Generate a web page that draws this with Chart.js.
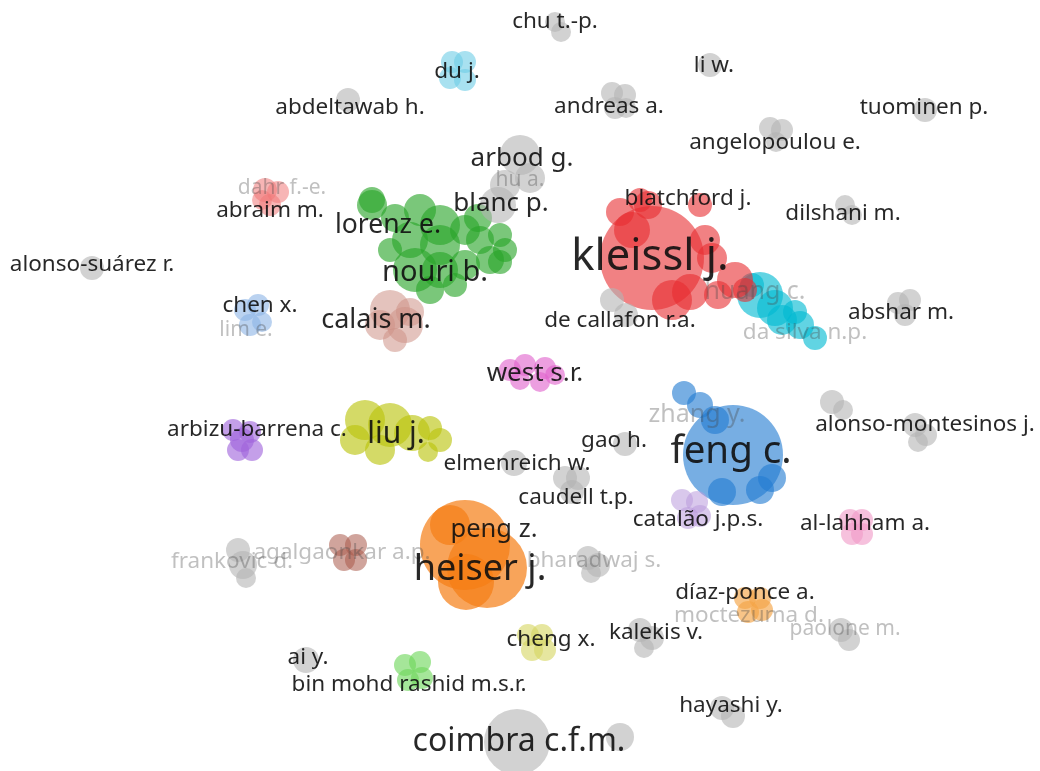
<!DOCTYPE html>
<html>
<head>
<meta charset="utf-8">
<script src="https://cdn.jsdelivr.net/npm/chart.js@4/dist/chart.umd.min.js"></script>
<style>
  html, body { margin: 0; padding: 0; background: #ffffff; }
  #wrap { width: 1040px; height: 771px; }
</style>
</head>
<body>
<div id="wrap"><canvas id="map"></canvas></div>
<script>
// Co-authorship map: clusters of authors laid out on a 2-D map.
// Map coordinates run 0..1040 (x) and 0..771 (y, downwards).

const clusterNames = [
  'other', 'kleissl', 'abraim', 'huang', 'du', 'lorenz', 'rashid', 'calais',
  'agalgaonkar', 'chen', 'west', 'liu', 'cheng', 'arbizu', 'catalao',
  'feng', 'heiser', 'diaz', 'lahham'
];

// Nodes (one per author); cluster index into clusterNames, map position and node weight.
const nodeCluster = [
  0,0,0,0,0,0,0,0,0,0,0,0,0,0,0,0,0,0,0,0,0,0,0,0,0,0,0,0,0,0,0,0,0,0,0,0,0,0,0,0,0,0,0,0,0,0,0,0,0,0,
  1,1,1,1,1,1,1,1,1,1,1,1,1,
  2,2,2,2,
  3,3,3,3,3,3,3,
  4,4,4,4,
  5,5,5,5,5,5,5,5,5,5,5,5,5,5,5,5,5,5,5,5,
  6,6,6,6,
  7,7,7,7,7,
  8,8,8,8,
  9,9,9,9,
  10,10,10,10,10,10,
  11,11,11,11,11,11,11,11,
  12,12,12,12,
  13,13,13,13,13,
  14,14,14,14,
  15,15,15,15,15,15,15,
  16,16,16,16,
  17,17,17,17,
  18,18,18,18
];
const nodeX = [
  // other (grey) nodes
  555,561, 710, 348, 612,625,615,626, 925, 770,782,776, 520,530,505,498, 845,852, 92,
  612,626, 898,910,905, 832,843, 915,926,918, 625, 514, 565,578,572, 588,598,591,
  238,243,246, 640,652,644, 841,849, 306, 722,733, 517, 620,
  // kleissl
  652,620,648,700,705,712,735,718,690,640,632,672,745,
  // abraim
  265,278,270,262,
  // huang
  760,782,800,815,752,795,775,
  // du
  452,465,450,465,
  // lorenz / nouri
  372,395,410,440,465,480,500,505,415,440,465,490,390,440,455,372,430,420,478,500,
  // bin mohd rashid
  405,420,408,422,
  // calais
  390,405,380,395,410,
  // agalgaonkar
  340,356,344,356,
  // chen / lim
  245,258,250,262,
  // west
  510,525,545,555,520,540,
  // liu
  365,390,412,355,380,430,440,428,
  // cheng
  528,542,532,545,
  // arbizu-barrena
  233,250,238,252,242,
  // catalao
  682,697,688,700,
  // feng
  733,684,700,715,772,722,760,
  // heiser / peng
  465,487,466,450,
  // diaz-ponce
  745,760,748,762,
  // al-lahham
  850,862,852,862
];
const nodeY = [
  22,32, 65, 100, 93,95,108,108, 110, 128,130,142, 155,178,185,205, 205,215, 268,
  300,315, 303,300,315, 402,410, 425,435,442, 444, 463, 478,478,492, 558,565,573,
  550,565,578, 630,638,648, 630,640, 660, 708,716, 742, 737,
  258,212,205,205,240,258,280,295,292,200,230,300,290,
  190,192,205,200,
  295,320,325,338,285,312,308,
  62,62,78,80,
  205,218,240,225,230,240,235,250,270,270,265,260,250,245,285,200,290,210,218,262,
  665,662,680,678,
  310,325,325,340,312,
  545,545,560,560,
  310,305,325,322,
  370,365,368,375,380,382,
  420,425,433,440,450,428,440,452,
  635,635,650,650,
  430,432,450,450,440,
  500,502,518,516,
  455,393,405,420,478,492,490,
  545,568,582,525,
  598,598,612,610,
  520,520,534,534
];
const nodeWeight = [
  10,10, 12, 12, 11,11,11,10, 12, 11,11,10, 20,15,15,18, 10,10, 12,
  12,12, 11,11,11, 12,10, 12,11,10, 12, 13, 12,12,12, 12,12,10,
  12,14,10, 12,12,10, 12,11, 13, 12,12, 33, 14,
  52,14,14,12,15,15,18,14,18,12,18,20,12,
  12,11,11,10,
  23,15,14,12,12,12,18,
  11,11,11,11,
  15,14,18,20,15,14,12,12,22,18,15,14,12,20,12,13,14,16,14,12,
  11,11,11,11,
  20,18,15,12,14,
  11,11,11,11,
  11,11,11,10,
  11,11,11,10,10,10,
  20,22,18,15,15,12,12,10,
  11,11,11,11,
  11,11,11,11,12,
  11,11,11,11,
  50,12,13,14,14,14,14,
  45,40,28,20,
  11,11,11,11,
  11,11,11,11
];

// Author labels: text, map position, weight and whether the label is shown faded.
const labelText = [
  'chu t.-p.', 'du j.', 'li w.', 'abdeltawab h.', 'andreas a.', 'tuominen p.',
  'angelopoulou e.', 'arbod g.', 'hu a.', 'dahr f.-e.', 'abraim m.', 'blanc p.',
  'blatchford j.', 'dilshani m.', 'lorenz e.', 'kleissl j.', 'alonso-suárez r.',
  'nouri b.', 'huang c.', 'chen x.', 'abshar m.', 'calais m.', 'de callafon r.a.',
  'lim e.', 'da silva n.p.', 'west s.r.', 'zhang y.', 'arbizu-barrena c.', 'liu j.',
  'alonso-montesinos j.', 'gao h.', 'feng c.', 'elmenreich w.', 'caudell t.p.',
  'catalão j.p.s.', 'al-lahham a.', 'peng z.', 'agalgaonkar a.p.', 'bharadwaj s.',
  'frankovic d.', 'heiser j.', 'díaz-ponce a.', 'moctezuma d.', 'paolone m.',
  'cheng x.', 'kalekis v.', 'ai y.', 'bin mohd rashid m.s.r.', 'hayashi y.',
  'coimbra c.f.m.'
];
const labelX = [
  555, 457, 714, 350, 609, 924, 775, 522, 520, 282, 270, 501, 688, 843, 388, 650, 92,
  435, 755, 260, 901, 376, 620, 246, 805, 535, 697, 257, 396, 925, 614, 731, 517, 576,
  698, 865, 494, 342, 594, 232, 480, 745, 749, 845, 551, 656, 308, 409, 731, 519
];
const labelY = [
  22, 72, 66, 108, 107, 108, 143, 159, 180, 188, 211, 204, 199, 214, 225, 258, 265,
  273, 292, 306, 313, 320, 321, 330, 333, 374, 415, 430, 434, 425, 441, 452, 464, 498,
  520, 524, 530, 553, 561, 562, 570, 593, 616, 629, 640, 633, 658, 685, 706, 742
];
const labelWeight = [
  22.5, 22.5, 22.5, 22.5, 22.5, 22.5, 22.5, 26, 21, 21, 22.5, 26, 22.5, 22.5, 26.5, 43.5, 22.5,
  29, 25, 22.5, 22.5, 27, 22.5, 21, 22.5, 26, 25, 22.5, 30, 22.5, 22.5, 38.5, 22.5, 22.5,
  22.5, 22.5, 25.5, 22.5, 22.5, 22.5, 36, 22.5, 22.5, 21, 22.5, 22.5, 22.5, 22.5, 22.5, 32
];
const labelFaded = [
  0,0,0,0,0,0,0,0,1,1,0,0,0,0,0,0,0,
  0,1,0,0,0,0,1,1,0,1,0,0,0,0,0,0,0,
  0,0,0,1,1,1,0,0,1,1,0,0,0,0,0,0
];

// ---- styling ----
const clusterColors = {
  other:       'rgba(180,180,180,0.6)',
  kleissl:     'rgba(232,45,48,0.6)',
  abraim:      'rgba(240,120,120,0.55)',
  huang:       'rgba(0,185,210,0.62)',
  du:          'rgba(110,205,230,0.6)',
  lorenz:      'rgba(40,165,40,0.62)',
  rashid:      'rgba(110,215,90,0.62)',
  calais:      'rgba(205,145,135,0.55)',
  agalgaonkar: 'rgba(170,90,75,0.55)',
  chen:        'rgba(140,180,230,0.6)',
  west:        'rgba(225,100,205,0.62)',
  liu:         'rgba(185,195,10,0.62)',
  cheng:       'rgba(215,215,100,0.62)',
  arbizu:      'rgba(160,100,220,0.62)',
  catalao:     'rgba(185,155,220,0.55)',
  feng:        'rgba(35,125,210,0.62)',
  heiser:      'rgba(245,125,20,0.7)',
  diaz:        'rgba(245,165,70,0.65)',
  lahham:      'rgba(240,155,200,0.62)'
};

const W = 1040, H = 771;

// Bubbles may run up to the canvas edge: no extra inset for the largest radius.
Chart.BubbleController.prototype.getMaxOverflow = function () { return 0; };

const datasets = clusterNames.map((name, ci) => {
  const pts = [];
  nodeCluster.forEach((c, i) => {
    if (c === ci) pts.push({ x: nodeX[i], y: nodeY[i], r: nodeWeight[i] });
  });
  return {
    label: name,
    data: pts,
    backgroundColor: clusterColors[name],
    borderWidth: 0,
    hoverRadius: 0,
    clip: false
  };
});

const labelPlugin = {
  id: 'authorLabels',
  afterDatasetsDraw(chart) {
    const { ctx, scales } = chart;
    ctx.save();
    ctx.textAlign = 'center';
    ctx.textBaseline = 'middle';
    // faded labels first, so the dark ones sit on top
    [1, 0].forEach(pass => {
      labelText.forEach((t, i) => {
        if (labelFaded[i] !== pass) return;
        const px = scales.x.getPixelForValue(labelX[i]);
        const py = scales.y.getPixelForValue(labelY[i]);
        ctx.font = labelWeight[i] + 'px "Noto Sans", "Open Sans", sans-serif';
        ctx.fillStyle = pass ? 'rgba(70,70,70,0.34)' : 'rgba(15,15,15,0.9)';
        ctx.fillText(t, px, py);
      });
    });
    ctx.restore();
  }
};

new Chart(document.getElementById('map'), {
  type: 'bubble',
  data: { datasets },
  options: {
    responsive: true,
    maintainAspectRatio: false,
    animation: false,
    events: [],
    layout: { padding: 0 },
    plugins: { legend: { display: false }, tooltip: { enabled: false } },
    scales: {
      x: { type: 'linear', min: 0, max: W, display: false },
      y: { type: 'linear', min: 0, max: H, reverse: true, display: false }
    }
  },
  plugins: [labelPlugin]
});
</script>
</body>
</html>
